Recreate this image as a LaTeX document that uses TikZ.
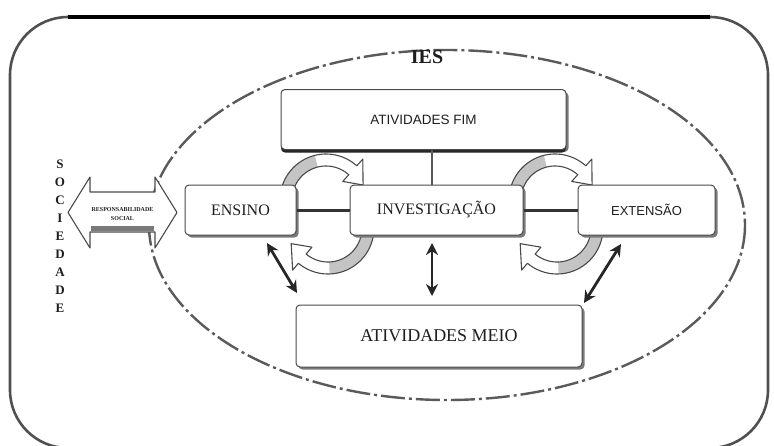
\documentclass[tikz,border=0pt]{standalone}
\usepackage{fontspec}
\setmainfont{Liberation Serif}
\newfontfamily\sansf{Liberation Sans}
\usetikzlibrary{arrows.meta,shadows,calc}
\definecolor{txt}{HTML}{1E1E1E}
\definecolor{edgegray}{HTML}{4A4A4A}
\definecolor{framegray}{HTML}{505050}
\definecolor{ellgray}{HTML}{5A5A5A}
\definecolor{arrgray}{HTML}{C4C4C4}
\definecolor{shadowgray}{HTML}{7A7A7A}
\newcommand{\cycshape}[5]{%
 plot[domain=#3:#4,samples=40] ({#1+46*cos(\x)},{#2+46*sin(\x)})
 -- ({#1+55*cos(#4)},{#2+55*sin(#4)})
 -- ({#1+40*cos(#5)},{#2+40*sin(#5)})
 -- ({#1+25*cos(#4)},{#2+25*sin(#4)})
 -- ({#1+34*cos(#4)},{#2+34*sin(#4)})
 -- plot[domain=#4:#3,samples=40] ({#1+34*cos(\x)},{#2+34*sin(\x)})
 -- cycle}
\newcommand{\cycarrow}[6]{%
 \path[fill=white] \cycshape{#1}{#2}{#3}{#5}{#6};
 \fill[arrgray] plot[domain=#3:#4,samples=30] ({#1+46*cos(\x)},{#2+46*sin(\x)})
   -- plot[domain=#4:#3,samples=30] ({#1+34*cos(\x)},{#2+34*sin(\x)}) -- cycle;
 \draw[edgegray, line width=1.1pt, line join=round] \cycshape{#1}{#2}{#3}{#5}{#6};
}
\tikzset{
 box/.style={draw=edgegray, line width=1pt, rounded corners=4pt, fill=white,
   text=txt, inner sep=0pt,
   drop shadow={shadow xshift=2.5pt, shadow yshift=-2.5pt, fill=shadowgray, opacity=1}},
 darkbox/.style={box, drop shadow={shadow xshift=0pt, shadow yshift=-3pt, fill=black!85, opacity=1}},
 link/.style={draw=black!80, line width=3pt},
 vlink/.style={draw=black!65, line width=1.6pt},
 dblarrow/.style={draw=black!85, line width=2.8pt,
   {Stealth[length=12pt,width=12pt]}-{Stealth[length=12pt,width=12pt]}},
 serifbig/.style={font=\fontsize{16}{18}\selectfont},
}
\begin{document}
\begin{tikzpicture}[x=1pt,y=-1pt]
\useasboundingbox (0,0) rectangle (774,445);
\clip (0,0) rectangle (774,445);

% outer frame
\draw[framegray, line width=2.6pt, rounded corners=58pt] (10,17) rectangle (768,448);
\draw[black, line width=4.5pt] (68,17) -- (710,17);

% dashed ellipse
\draw[ellgray, line width=2.4pt, dash pattern=on 24pt off 4pt on 3pt off 4pt]
  (447,225) ellipse [x radius=298, y radius=175];

\node[font=\fontsize{20}{22}\selectfont\bfseries, text=txt] (ies) at (427,57) {IES};

% cycle arrows
\cycarrow{326}{200}{180}{256}{312}{338}
\cycarrow{328}{228}{0}{88}{130}{157}
\cycarrow{555}{200}{180}{256}{312}{338}
\cycarrow{557}{228}{0}{88}{130}{157}

% boxes
\node[darkbox, minimum width=285pt, minimum height=60pt,
      font=\sansf\fontsize{13.5}{15}\selectfont] (fim) at (423.5,119.5) {ATIVIDADES FIM};
\node[box, minimum width=111pt, minimum height=50pt, serifbig] (ensino) at (240.5,210) {ENSINO};
\node[box, minimum width=173pt, minimum height=50pt, serifbig] (invest) at (436.5,210) {INVESTIGAÇÃO};
\node[box, minimum width=137pt, minimum height=50pt,
      font=\sansf\fontsize{13}{15}\selectfont] (ext) at (646.5,210) {EXTENSÃO};
\node[box, minimum width=286pt, minimum height=62pt,
      font=\fontsize{18}{20}\selectfont] (meio) at (439,336) {ATIVIDADES MEIO};

% connecting lines
\coordinate (vl) at (432,0);
\draw[vlink] (fim.south -| vl) -- (invest.north -| vl);
\draw[link] (ensino.east) -- (invest.west);
\draw[link] (invest.east) -- (ext.west);

% double arrows
\coordinate (la1) at (267,243);
\coordinate (la2) at (297,293);
\coordinate (va1) at (432,243);
\coordinate (va2) at (432,296);
\coordinate (ra1) at (621,244);
\coordinate (ra2) at (584,303);
\draw[dblarrow] (la1) -- (la2);
\draw[dblarrow] (va1) -- (va2);
\draw[dblarrow] (ra1) -- (ra2);

% social responsibility arrow
\draw[edgegray, line width=1.1pt, fill=white, line join=round]
  (68,212.5) -- (90,177) -- (90,192) -- (155,192) -- (155,177) -- (177,212.5)
  -- (155,248) -- (155,232) -- (90,232) -- (90,248) -- cycle;
\fill[shadowgray] (90.6,226) rectangle (154.4,231.4);
\node[font=\fontsize{6}{9}\selectfont\bfseries, align=center, text=txt, inner sep=0pt]
  (resp) at (122.5,214) {RESPONSABILIDADE\\SOCIAL};

% SOCIEDADE
\node[font=\fontsize{13}{18}\selectfont\bfseries, align=center, text=txt, inner sep=0pt]
  (soc) at (60,236) {S\\O\\C\\I\\E\\D\\A\\D\\E};
\end{tikzpicture}
\end{document}
